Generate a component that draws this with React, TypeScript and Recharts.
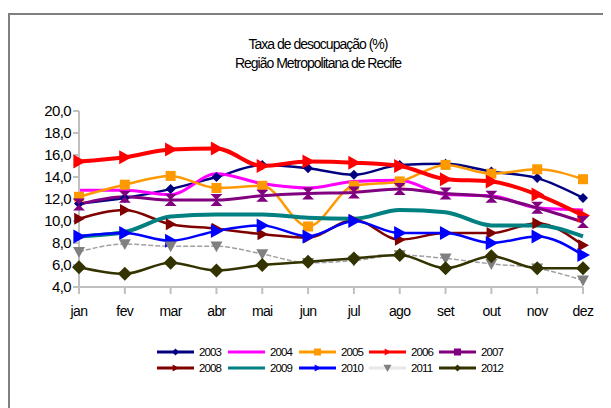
import React from "react";
import { LineChart, Line, XAxis, YAxis } from "recharts";

const months = ["jan", "fev", "mar", "abr", "mai", "jun", "jul", "ago", "set", "out", "nov", "dez"];
const yTicks = [4, 6, 8, 10, 12, 14, 16, 18, 20];

const s2003 = [11.6, 12.1, 12.9, 14.0, 15.1, 14.8, 14.2, 15.1, 15.2, 14.5, 13.9, 12.1];
const s2004 = [12.8, 12.8, 12.4, 14.3, 13.4, 13.0, 13.6, 13.7, 12.4, 12.3, 11.2, 11.0];
const s2005 = [12.2, 13.3, 14.1, 13.0, 13.2, 9.5, 13.2, 13.6, 15.1, 14.3, 14.7, 13.8];
const s2006 = [15.4, 15.8, 16.5, 16.6, 15.0, 15.4, 15.3, 15.0, 13.8, 13.6, 12.4, 10.5];
const s2007 = [11.5, 12.2, 11.9, 11.9, 12.3, 12.5, 12.6, 12.9, 12.5, 12.2, 11.2, 9.9];
const s2008 = [10.2, 11.0, 9.7, 9.3, 8.8, 8.5, 10.1, 8.3, 8.9, 8.9, 9.8, 7.8];
const s2009 = [8.6, 9.0, 10.4, 10.6, 10.6, 10.3, 10.2, 11.0, 10.8, 9.6, 9.6, 8.6];
const s2010 = [8.6, 8.9, 8.2, 9.1, 9.6, 8.6, 10.0, 8.9, 8.9, 8.0, 8.6, 6.9];
const s2011 = [7.2, 7.9, 7.7, 7.7, 7.0, 6.2, 6.4, 6.9, 6.6, 6.1, 5.7, 4.6];
const s2012 = [5.8, 5.2, 6.2, 5.5, 6.0, 6.3, 6.6, 6.9, 5.7, 6.8, 5.7, 5.7];

type Shape = "diamond" | "square" | "right" | "down" | "hourglass" | "none";

const series: { key: string; name: string; values: number[]; color: string; line: string; width: number; shape: Shape; size: number; dash?: string }[] = [
  { key: "y2003", name: "2003", values: s2003, color: "#000080", line: "#000080", width: 2.5, shape: "diamond", size: 5 },
  { key: "y2004", name: "2004", values: s2004, color: "#ff00ff", line: "#ff00ff", width: 3, shape: "none", size: 0 },
  { key: "y2005", name: "2005", values: s2005, color: "#ff9900", line: "#ff9900", width: 2.5, shape: "square", size: 5 },
  { key: "y2006", name: "2006", values: s2006, color: "#ff0000", line: "#ff0000", width: 4, shape: "right", size: 7 },
  { key: "y2007", name: "2007", values: s2007, color: "#800080", line: "#800080", width: 3, shape: "hourglass", size: 6 },
  { key: "y2008", name: "2008", values: s2008, color: "#800000", line: "#800000", width: 2.5, shape: "right", size: 6 },
  { key: "y2009", name: "2009", values: s2009, color: "#008080", line: "#008080", width: 4, shape: "none", size: 0 },
  { key: "y2010", name: "2010", values: s2010, color: "#0000ff", line: "#0000ff", width: 2.5, shape: "right", size: 7 },
  { key: "y2011", name: "2011", values: s2011, color: "#808080", line: "#a0a0a0", width: 1.5, shape: "down", size: 6, dash: "5 2" },
  { key: "y2012", name: "2012", values: s2012, color: "#333300", line: "#333300", width: 2.5, shape: "diamond", size: 7 },
];

const data = months.map((m, i) => {
  const row: Record<string, string | number> = { month: m };
  series.forEach((s) => (row[s.key] = s.values[i]));
  return row;
});

function marker(shape: Shape, color: string, s: number, cx: number, cy: number, key?: string) {
  switch (shape) {
    case "diamond":
      return <polygon key={key} points={`${cx},${cy - s} ${cx + s},${cy} ${cx},${cy + s} ${cx - s},${cy}`} fill={color} />;
    case "square":
      return <rect key={key} x={cx - s} y={cy - s} width={2 * s} height={2 * s} fill={color} />;
    case "right":
      return <polygon key={key} points={`${cx - s * 0.8},${cy - s} ${cx + s},${cy} ${cx - s * 0.8},${cy + s}`} fill={color} />;
    case "down":
      return <polygon key={key} points={`${cx - s},${cy - s * 0.8} ${cx + s},${cy - s * 0.8} ${cx},${cy + s}`} fill={color} />;
    case "hourglass":
      return (
        <polygon
          key={key}
          points={`${cx - s},${cy - s} ${cx + s},${cy - s} ${cx},${cy} ${cx + s},${cy + s} ${cx - s},${cy + s} ${cx},${cy}`}
          fill={color}
        />
      );
    default:
      return null;
  }
}

const makeDot = (shape: Shape, color: string, size: number) => (props: any) => {
  const { cx, cy, index } = props;
  if (shape === "none" || cx == null || cy == null) return <g key={`n-${index}`} />;
  return marker(shape, color, size, cx, cy, `${shape}-${index}`);
};

const fmt = (v: number) => v.toFixed(1).replace(".", ",");

const font = "'Liberation Sans', Arial, sans-serif";

const legendX = [149, 220, 291, 361, 431];

export default function App() {
  return (
    <div style={{ position: "relative", width: 603, height: 400, overflow: "hidden", fontFamily: font }}>
      <div
        style={{
          position: "absolute",
          left: 0,
          top: 5,
          width: 700,
          height: 500,
          border: "2px solid #808080",
          boxSizing: "border-box",
        }}
      />
      <div
        style={{
          position: "absolute",
          left: 0,
          width: 620,
          top: 27,
          textAlign: "center",
          fontSize: 14,
          lineHeight: "19px",
          letterSpacing: -1,
          color: "#000",
        }}
      >
        <div>Taxa de desocupação (%)</div>
        <div>Região Metropolitana de Recife</div>
      </div>
      <div style={{ position: "absolute", left: 0, top: 0 }}>
        <LineChart width={603} height={330} data={data} margin={{ top: 103, right: 28, left: 0, bottom: 21 }}>
          <XAxis
            dataKey="month"
            stroke="#c0c0c0"
            strokeWidth={2}
            tickSize={7}
            tickMargin={12}
            height={30}
            tick={{ fill: "#000", fontSize: 14, fontFamily: font, letterSpacing: -0.6 }}
          />
          <YAxis
            domain={[4, 20]}
            ticks={yTicks}
            width={71}
            stroke="#c0c0c0"
            strokeWidth={2}
            tickSize={6}
            tickMargin={2}
            tickFormatter={fmt}
            tick={{ fill: "#000", fontSize: 15, fontFamily: font, letterSpacing: -0.6 }}
          />
          {series.map((s) => (
            <Line
              key={s.key}
              dataKey={s.key}
              name={s.name}
              type="monotone"
              stroke={s.line}
              strokeWidth={s.width}
              strokeDasharray={s.dash}
              dot={makeDot(s.shape, s.color, s.size)}
              activeDot={false}
              isAnimationActive={false}
            />
          ))}
        </LineChart>
      </div>
      {series.map((s, i) => {
        const row = Math.floor(i / 5);
        const x = legendX[i % 5];
        const y = 337 + row * 16;
        return (
          <div key={s.key} style={{ position: "absolute", left: x, top: y, height: 14, display: "flex", alignItems: "center" }}>
            <svg width={38} height={14}>
              <line x1={0} y1={7} x2={37} y2={7} stroke={s.shape === "down" ? "#e8e8e8" : s.line} strokeWidth={3} />
              {marker(s.shape === "hourglass" ? "square" : s.shape, s.color, s.shape === "down" ? 4 : 3.5, 18.5, 7)}
            </svg>
            <span style={{ fontSize: 11.5, letterSpacing: -0.9, marginLeft: 4 }}>{s.name}</span>
          </div>
        );
      })}
    </div>
  );
}
